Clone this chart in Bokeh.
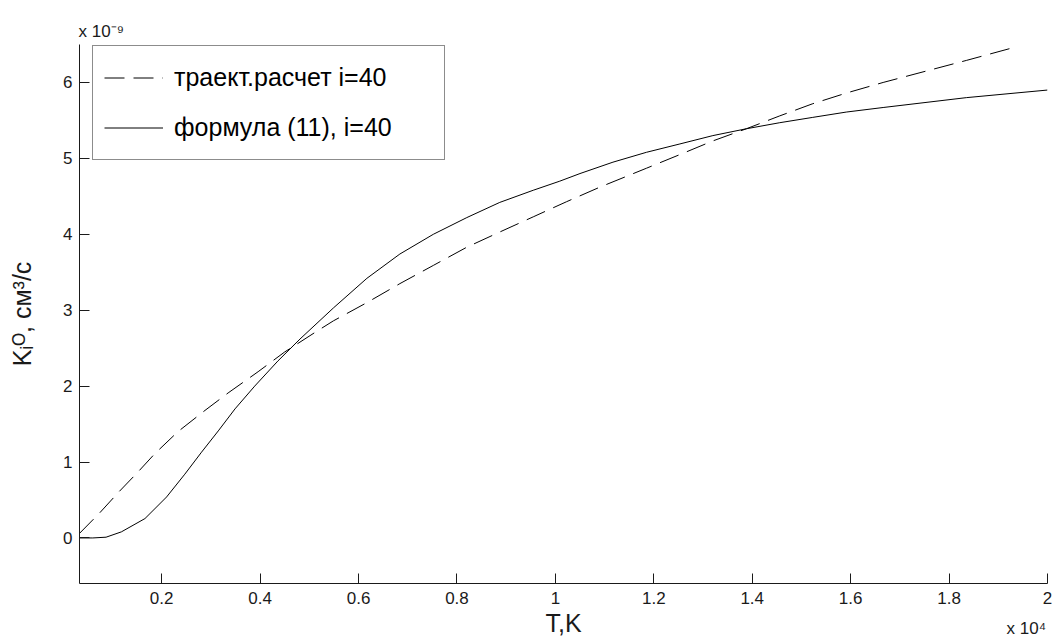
import numpy as np
from bokeh.plotting import figure
from bokeh.models import Range1d, FixedTicker, Legend, LegendItem, LinearAxis
from bokeh.embed import file_html
from bokeh.resources import INLINE

# Rate coefficient K_i^O (units of 1e-9 cm^3/s) versus temperature T (K), i = 40
t_traj = [330, 740, 1120, 1520, 1860, 2330, 2880, 3350, 3960, 4500, 5170, 5490,
          6170, 6840, 7520, 8200, 8870, 9550, 10230, 10900, 11850, 12530, 13200,
          13880, 14560, 15230, 15910, 16660, 18350, 19370]
k_traj = [0.06, 0.33, 0.60, 0.87, 1.11, 1.40, 1.68, 1.91, 2.19, 2.45, 2.73, 2.86,
          3.10, 3.35, 3.59, 3.83, 4.03, 4.23, 4.43, 4.62, 4.87, 5.05, 5.23,
          5.39, 5.56, 5.72, 5.86, 6.00, 6.29, 6.47]

t_formula = [330, 600, 870, 1180, 1660, 2100, 2470, 2810, 3150, 3490, 3890, 4360,
             4810, 5490, 6170, 6840, 7520, 8200, 8870, 9550, 10090, 10500, 11170,
             11850, 12530, 13200, 13880, 14560, 15230, 15910, 16660, 18350, 20000]
k_formula = [0.0, 0.0, 0.01, 0.08, 0.255, 0.54, 0.84, 1.13, 1.41, 1.70, 2.00, 2.33,
             2.62, 3.03, 3.42, 3.74, 4.00, 4.22, 4.42, 4.58, 4.70, 4.80, 4.95,
             5.08, 5.19, 5.30, 5.39, 5.47, 5.54, 5.61, 5.67, 5.80, 5.90]

series_labels = ["траект.расчет i=40", "формула (11), i=40"]

x_ticks = [0.2, 0.4, 0.6, 0.8, 1.0, 1.2, 1.4, 1.6, 1.8, 2.0]
x_tick_labels = ["0.2", "0.4", "0.6", "0.8", "1", "1.2", "1.4", "1.6", "1.8", "2"]
y_ticks = [0, 1, 2, 3, 4, 5, 6]

x_title = "T,K"
y_title = "Kᵢᴼ, см³/с"
x_multiplier = "x 10⁴"
y_multiplier = "x 10⁻⁹"

T_SCALE = 1e4  # x axis shown in units of 10^4 K

FONT = "Liberation Sans"
INK = "#1a1a1a"

p = figure(width=1055, height=640, output_backend="svg", toolbar_location=None,
           x_range=Range1d(0.033, 2.0), y_range=Range1d(-0.6, 6.5),
           min_border_left=79, min_border_right=8, min_border_top=44,
           min_border_bottom=57, background_fill_color="white",
           border_fill_color="white", title=y_multiplier)
p.outline_line_color = None
p.xgrid.visible = False
p.ygrid.visible = False

# exponent of the y axis, printed above its top end
p.title.align = "left"
p.title.offset = -1
p.title.standoff = 7
p.title.text_font = FONT
p.title.text_font_size = "17px"
p.title.text_font_style = "normal"
p.title.text_color = INK

for ax in (p.xaxis[0], p.yaxis[0]):
    ax.axis_line_color = INK
    ax.axis_line_width = 1
    ax.major_tick_line_color = INK
    ax.major_tick_in = 10
    ax.major_tick_out = 0
    ax.minor_tick_line_color = None
    ax.major_label_text_font = FONT
    ax.major_label_text_font_size = "17px"
    ax.major_label_text_color = INK
    ax.axis_label_text_font = FONT
    ax.axis_label_text_font_size = "25px"
    ax.axis_label_text_font_style = "normal"
    ax.axis_label_text_color = INK

p.xaxis.ticker = FixedTicker(ticks=x_ticks)
p.xaxis.major_label_overrides = {t: s for t, s in zip(x_ticks, x_tick_labels)}
p.xaxis.major_label_standoff = 8
p.xaxis.axis_label = x_title
p.xaxis.axis_label_standoff = 2

p.yaxis.ticker = FixedTicker(ticks=y_ticks)
p.yaxis.major_label_standoff = 7
p.yaxis.axis_label = y_title
p.yaxis.axis_label_standoff = 24

# exponent of the x axis: a bare tick label tucked under the right end of the
# axis, on the same line as the axis title
mult_pos = 1.957
mult_axis = LinearAxis(ticker=FixedTicker(ticks=[mult_pos]),
                       major_label_overrides={mult_pos: x_multiplier},
                       axis_line_color=None, major_tick_line_color=None,
                       major_tick_in=0, major_tick_out=0,
                       minor_tick_line_color=None,
                       major_label_standoff=-21,
                       major_label_text_font=FONT,
                       major_label_text_font_size="17px",
                       major_label_text_color=INK)
p.add_layout(mult_axis, "below")

xs_traj = np.array(t_traj) / T_SCALE
xs_form = np.array(t_formula) / T_SCALE

r_traj = p.line(xs_traj, k_traj, line_color="black", line_width=1, line_dash="20 9")
r_form = p.line(xs_form, k_formula, line_color="black", line_width=1)

legend = Legend(items=[LegendItem(label=series_labels[0], renderers=[r_traj]),
                       LegendItem(label=series_labels[1], renderers=[r_form])],
                location=(13, 423), padding=11, spacing=9,
                glyph_width=59, glyph_height=41, label_height=41,
                label_width=259, label_standoff=11,
                label_text_font=FONT, label_text_font_size="25px",
                label_text_color="black",
                border_line_color=INK, border_line_width=1,
                background_fill_color="white", background_fill_alpha=1.0,
                margin=0)
p.add_layout(legend)

open("out.html", "w").write(file_html(p, INLINE))
